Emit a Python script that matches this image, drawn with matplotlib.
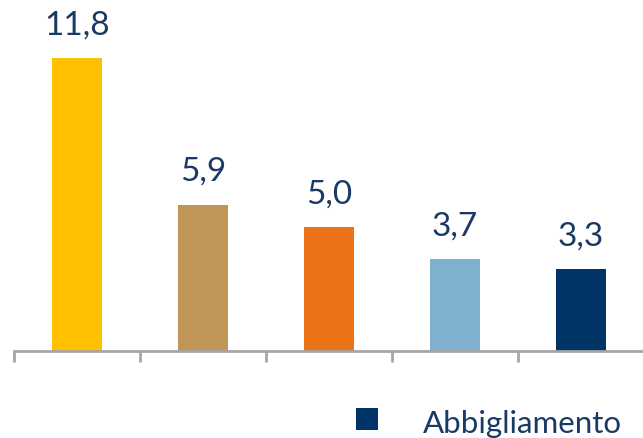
import matplotlib.pyplot as plt
from matplotlib.patches import Rectangle

# data
categories = ["A", "B", "C", "D", "Abbigliamento"]
values = [11.8, 5.9, 5.0, 3.7, 3.3]
labels = ["11,8", "5,9", "5,0", "3,7", "3,3"]
colors = ["#FFC000", "#BF9655", "#EA7317", "#80B0D0", "#003366"]
legend_label = "Abbigliamento"

text_color = "#1A3A66"
axis_color = "#A6A6A6"
font = "Lato"

fig = plt.figure(figsize=(6.43, 4.38), dpi=100)
ax = fig.add_axes([14 / 643, 87 / 438, 630 / 643, 351 / 438])

x = range(len(values))
ax.bar(x, values, width=0.39, color=colors)
for i, (v, lab) in enumerate(zip(values, labels)):
    ax.text(i, v + 0.72, lab, ha="center", va="bottom", fontsize=24,
            color=text_color, family=font)

ax.set_xlim(-0.5, len(values) - 0.5)
ax.set_ylim(0, 14.15)

for s in ["top", "right", "left"]:
    ax.spines[s].set_visible(False)
ax.spines["bottom"].set_color(axis_color)
ax.spines["bottom"].set_linewidth(2)
ax.set_yticks([])
ax.set_xticks([i - 0.5 for i in range(len(values) + 1)])
ax.set_xticklabels([])
ax.tick_params(axis="x", length=8, width=2, color=axis_color, direction="out")

# legend: square + label
fig.patches.append(Rectangle((356 / 643, 1 - 430 / 438), 22 / 643, 22 / 438,
                             transform=fig.transFigure, facecolor=colors[-1],
                             edgecolor="none"))
fig.text(423 / 643, 1 - 433 / 438, legend_label, ha="left", va="baseline",
         fontsize=22.5, color=text_color, family=font)

fig.savefig("out.png", dpi=100)
